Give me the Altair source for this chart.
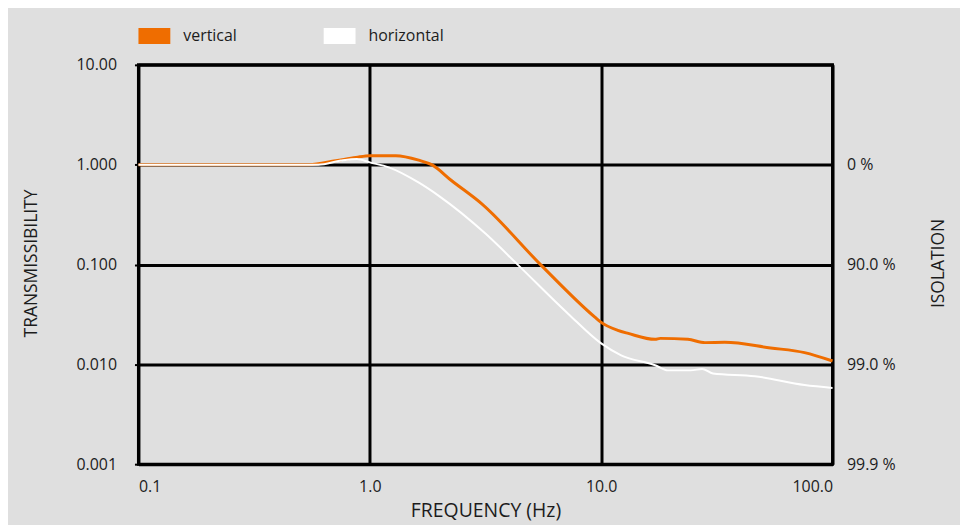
import altair as alt
import pandas as pd

# ---- data ----
freq_vertical = [0.1, 0.3, 0.546, 0.713, 0.871, 1.0, 1.295, 1.626, 1.85, 2.26, 3.04, 5.51,
                 9.42, 10.0, 11.8, 13.1, 17.1, 18.0, 23.7, 28.1, 34.2, 54.0, 75.7, 100.0]
trans_vertical = [1.0, 1.0, 1.0, 1.096, 1.18, 1.23, 1.23, 1.11, 1.0, 0.69, 0.407, 0.098,
                  0.0295, 0.0263, 0.0219, 0.0204, 0.0178, 0.0182, 0.0178, 0.0165, 0.0166,
                  0.0146, 0.0131, 0.0108]

freq_horizontal = [0.1, 0.3, 0.6, 0.75, 0.88, 1.0, 1.208, 1.63, 1.98, 3.16, 4.39, 7.21,
                   10.0, 12.2, 17.1, 19.4, 24.4, 27.3, 30.4, 46.1, 75.7, 100.0]
trans_horizontal = [1.0, 1.0, 1.0, 1.1, 1.14, 1.055, 0.94, 0.66, 0.49, 0.204, 0.098, 0.032,
                    0.0162, 0.0123, 0.0098, 0.0087, 0.0087, 0.0090, 0.0081, 0.0076, 0.0062,
                    0.0058]

series_names = ["vertical", "horizontal"]
series_colors = ["#ef6d00", "#ffffff"]

x_ticks = [0.1, 1, 10, 100]
y_ticks = [10, 1, 0.1, 0.01, 0.001]
y_tick_labels = ["10.00", "1.000", "0.100", "0.010", "0.001"]
iso_tick_labels = ["", "0 %", "90.0 %", "99.0 %", "99.9 %"]

# ---- tables ----
df = pd.concat([
    pd.DataFrame({"freq": freq_vertical, "trans": trans_vertical, "series": "vertical"}),
    pd.DataFrame({"freq": freq_horizontal, "trans": trans_horizontal, "series": "horizontal"}),
])
ticks_df = pd.DataFrame({"v": y_ticks, "freq": [1.0] * len(y_ticks)})
legend_df = pd.DataFrame({"series": series_names, "freq": [1.0, 1.0], "trans": [1.0, 1.0]})


def label_expr(values, labels):
    expr = "''"
    for v, l in zip(values[::-1], labels[::-1]):
        expr = f"abs(datum.value - {v}) < {v} * 1e-6 ? '{l}' : ({expr})"
    return expr


FONT = "Open Sans"
TXT = "#1c1c1c"

xscale = alt.Scale(type="log", domain=[0.1, 100], nice=False)
yscale = alt.Scale(type="log", domain=[0.001, 10], nice=False)
cscale = alt.Scale(domain=series_names, range=series_colors)

X = alt.X("freq:Q", scale=xscale,
          axis=alt.Axis(values=x_ticks, format=".1f", title="FREQUENCY (Hz)",
                        labelFlush=True, ticks=False, domain=False, grid=True,
                        gridColor="black", gridWidth=3, gridOpacity=1,
                        labelPadding=14, titleY=47, titleBaseline="middle",
                        titleFontSize=19.5))

lines = alt.Chart(df).mark_line(interpolate="monotone").encode(
    x=X,
    y=alt.Y("trans:Q", scale=yscale,
            axis=alt.Axis(values=y_ticks, labelExpr=label_expr(y_ticks, y_tick_labels),
                          title="TRANSMISSIBILITY", ticks=True, tickSize=4, tickWidth=2,
                          tickColor="black", domain=False, grid=True, gridColor="black",
                          gridWidth=3, gridOpacity=1, labelPadding=18,
                          titleAngle=270, titleX=-107, titleY=199,
                          titleAlign="center", titleBaseline="middle",
                          titleFontSize=17.5)),
    color=alt.Color("series:N", scale=cscale, legend=None),
    strokeWidth=alt.StrokeWidth("series:N", scale=alt.Scale(domain=series_names, range=[3, 2]),
                                legend=None),
    order=alt.Order("series:N", sort="ascending"),
)

legend_layer = alt.Chart(legend_df).mark_point(
    filled=True, opacity=0, shape="M-1,-0.5L1,-0.5L1,0.5L-1,0.5Z"
).encode(
    x=X,
    y=alt.Y("trans:Q", scale=yscale, axis=None),
    color=alt.Color("series:N", scale=cscale, sort=series_names,
                    legend=alt.Legend(title=None, orient="none", legendX=0, legendY=-45,
                                      direction="horizontal", columnPadding=87,
                                      symbolType="M-1,-0.5L1,-0.5L1,0.5L-1,0.5Z",
                                      symbolSize=1024, symbolStrokeWidth=0,
                                      symbolOpacity=1, labelOffset=13)),
)

right_axis = alt.Chart(ticks_df).mark_point(opacity=0).encode(
    x=X,
    y=alt.Y("v:Q", scale=yscale,
            axis=alt.Axis(orient="right", values=y_ticks,
                          labelExpr=label_expr(y_ticks, iso_tick_labels),
                          title="ISOLATION", ticks=False, domain=False, grid=False,
                          labelPadding=14, titleAngle=270, titleX=106, titleY=199,
                          titleAlign="center", titleBaseline="middle",
                          titleFontSize=17.5)),
)

chart = alt.layer(lines, legend_layer, right_axis).resolve_scale(
    y="independent"
).resolve_legend(color="independent").properties(
    width=697, height=401,
    autosize=alt.AutoSizeParams(type="none"),
    padding={"left": 131, "top": 56, "right": 128, "bottom": 60},
    background="#dfdfdf",
).configure_view(
    stroke="black", strokeWidth=3, fill="#dfdfdf"
).configure_axis(
    labelFont=FONT, titleFont=FONT, labelFontSize=16, titleFontSize=16,
    labelColor=TXT, titleColor=TXT, titleFontWeight="normal",
).configure_legend(
    labelFont=FONT, labelFontSize=16, labelColor=TXT, padding=0,
)

chart.save("out.html", embed_options={"renderer": "svg", "actions": False})
